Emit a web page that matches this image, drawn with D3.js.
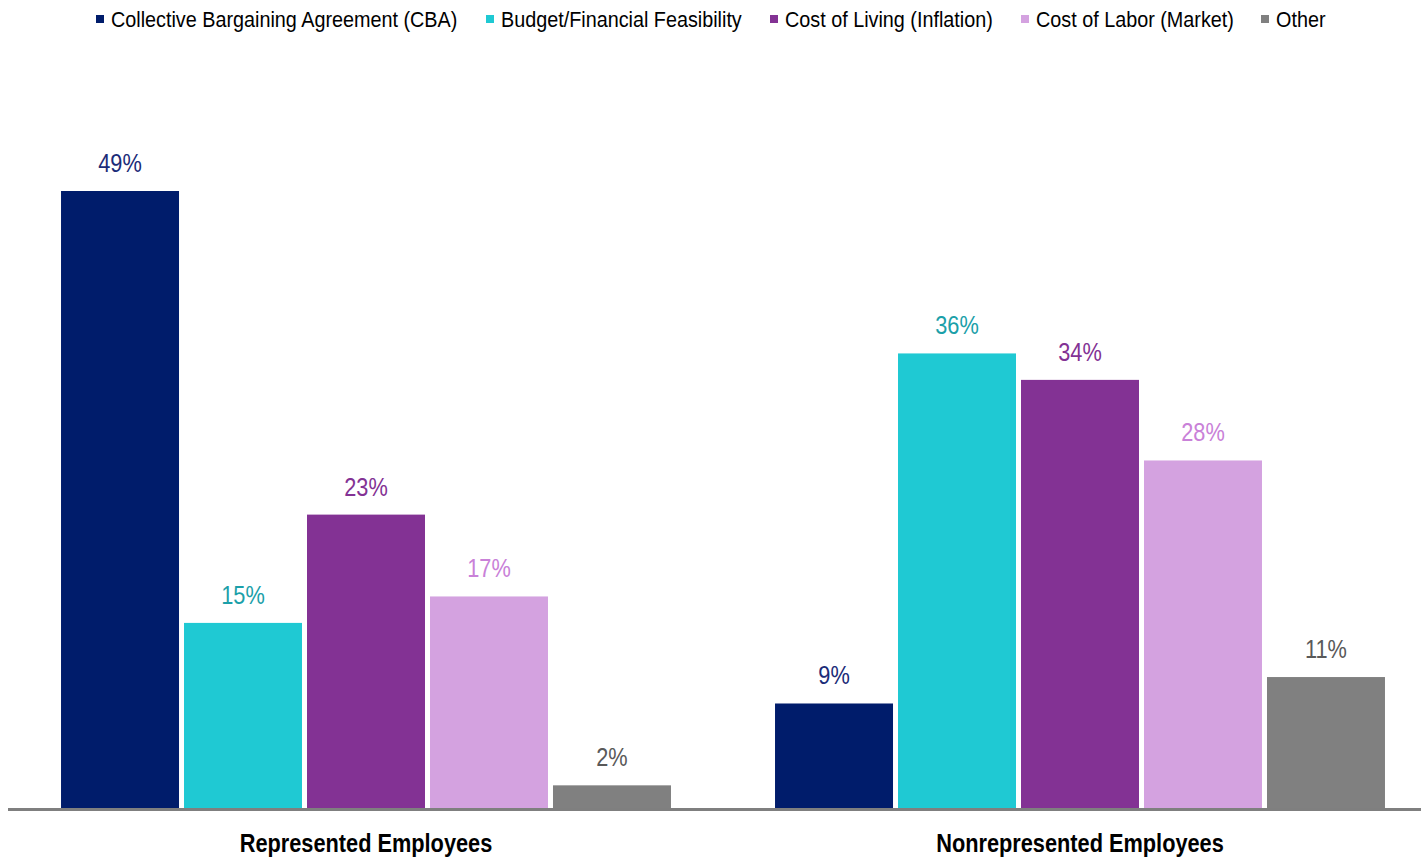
<!DOCTYPE html>
<html><head><meta charset="utf-8">
<script src="https://cdn.jsdelivr.net/npm/d3@7"></script>
<style>
body{margin:0;background:#fff;}
text{font-family:"Liberation Sans",Arial,sans-serif;}
</style></head>
<body><svg id="c" width="1421" height="860"></svg>
<script>
const groups = ["Represented Employees", "Nonrepresented Employees"];
const seriesNames = ["Collective Bargaining Agreement (CBA)", "Budget/Financial Feasibility", "Cost of Living (Inflation)", "Cost of Labor (Market)", "Other"];
// bar values
const represented = [49.0, 14.7, 23.3, 16.8, 1.8];
const nonrepresented = [8.3, 36.1, 34.0, 27.6, 10.4];
// data labels as printed on the chart
const representedLabels = ["49%", "15%", "23%", "17%", "2%"];
const nonrepresentedLabels = ["9%", "36%", "34%", "28%", "11%"];
const barColors = ["#001C6B", "#1FC9D3", "#833294", "#D4A2E0", "#808080"];
const labelColors = ["#1B2C78", "#1BA0A9", "#833294", "#C981D8", "#595959"];

const svg = d3.select("#c");
const baseY = 808;
const y = d3.scaleLinear().domain([0, 49]).range([baseY, 191]);
const x0 = d3.scaleBand().domain(groups).range([9, 1437]).padding(0);
const x1 = d3.scaleBand().domain(seriesNames).range([0, x0.bandwidth()]).paddingInner(0.0407).paddingOuter(0.423);
const SX = 0.87;

function narrowText(sel, x, yy) {
  return sel.attr("transform", (d, i) => `translate(${x(d, i)},${yy(d, i)}) scale(${SX},1)`).attr("x", 0).attr("y", 0);
}

const data = groups.map((g, i) => ({
  g,
  vals: (i === 0 ? represented : nonrepresented),
  labs: (i === 0 ? representedLabels : nonrepresentedLabels)
}));

const gs = svg.selectAll("g.grp").data(data).join("g").attr("transform", d => `translate(${x0(d.g)},0)`);
gs.selectAll("rect").data(d => d.vals.map((v, j) => ({v, j, lab: d.labs[j]})))
  .join("rect")
  .attr("x", d => x1(seriesNames[d.j]))
  .attr("width", x1.bandwidth())
  .attr("y", d => y(d.v))
  .attr("height", d => baseY - y(d.v))
  .attr("fill", d => barColors[d.j]);
narrowText(gs.selectAll("text.val").data(d => d.vals.map((v, j) => ({v, j, lab: d.labs[j]})))
  .join("text").attr("class", "val"),
  d => x1(seriesNames[d.j]) + x1.bandwidth() / 2,
  d => y(d.v) - 19)
  .attr("text-anchor", "middle")
  .attr("font-size", 25)
  .attr("fill", d => labelColors[d.j])
  .text(d => d.lab);

// baseline axis
svg.append("line").attr("x1", 8).attr("x2", 1421).attr("y1", baseY + 1.5).attr("y2", baseY + 1.5)
  .attr("stroke", "#7f7f7f").attr("stroke-width", 3);

// category labels
narrowText(svg.selectAll("text.cat").data(groups).join("text").attr("class", "cat"),
  d => x0(d) + x0.bandwidth() / 2, () => 852)
  .attr("text-anchor", "middle")
  .attr("font-size", 25)
  .attr("font-weight", "bold")
  .attr("fill", "#000")
  .text(d => d);

// legend
const legendX = [96, 486, 770, 1021, 1261];
const lg = svg.selectAll("g.leg").data(seriesNames).join("g").attr("class", "leg")
  .attr("transform", (d, i) => `translate(${legendX[i]},0)`);
lg.append("rect").attr("x", 0).attr("y", 15).attr("width", 8).attr("height", 8)
  .attr("fill", (d, i) => barColors[i]);
lg.append("text").attr("transform", "translate(15,27) scale(0.9,1)")
  .attr("font-size", 22).attr("fill", "#000").text(d => d);
</script></body></html>
